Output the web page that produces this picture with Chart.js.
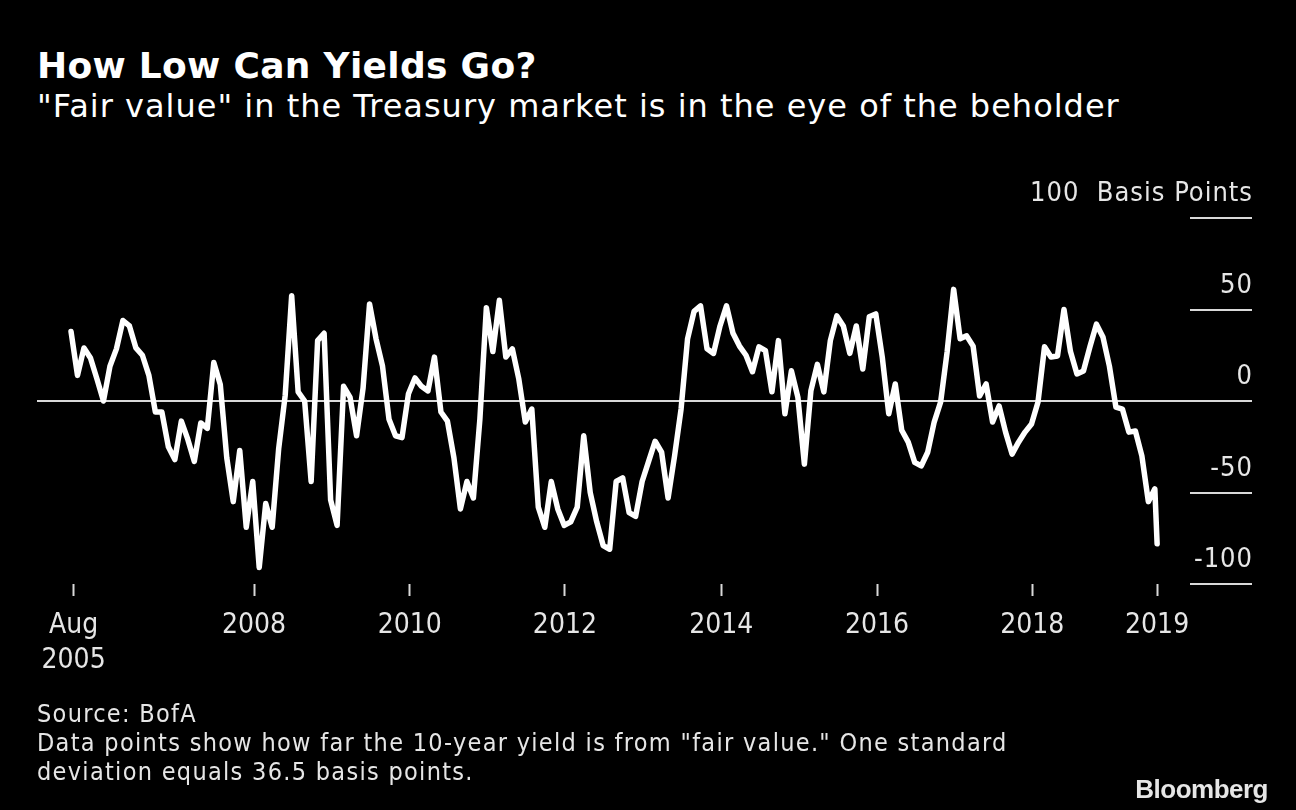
<!DOCTYPE html>
<html lang="en">
<head>
<meta charset="UTF-8">
<title>How Low Can Yields Go?</title>
<script src="https://cdn.jsdelivr.net/npm/chart.js"></script>
<style>
  html, body { margin: 0; padding: 0; background: #000; }
  body { width: 1296px; height: 810px; position: relative; overflow: hidden; font-family: "DejaVu Sans", sans-serif; }
  #chart { position: absolute; left: 0; top: 0; }
  .title { position: absolute; left: 37px; top: 45px; font-size: 36px; font-weight: bold; letter-spacing: 0.3px; color: #fff; line-height: 1.164; white-space: nowrap; }
  .subtitle { position: absolute; left: 37px; top: 88px; font-size: 32px; letter-spacing: 1px; color: #fff; line-height: 1.164; white-space: nowrap; }
  .notes { position: absolute; left: 37px; top: 699px; font-family: "DejaVu Sans Condensed", "DejaVu Sans", sans-serif; font-size: 25px; letter-spacing: 1.3px; line-height: 29px; color: #e6e6e6; white-space: nowrap; }
  .logo { position: absolute; right: 28px; top: 774px; font-family: "Liberation Sans", Arial, sans-serif; font-weight: bold; font-size: 26px; letter-spacing: -0.5px; color: #e6e6e6; }
</style>
</head>
<body>
  <div class="title">How Low Can Yields Go?</div>
  <div class="subtitle">"Fair value" in the Treasury market is in the eye of the beholder</div>
  <canvas id="chart" width="1296" height="810"></canvas>
  <div class="notes">Source: BofA<br>Data points show how far the 10-year yield is from "fair value." One standard<br>deviation equals 36.5 basis points.</div>
  <div class="logo">Bloomberg</div>
<script>
// monthly readings, Aug 2005 onwards (basis points from fair value)
const values = [
  38, 14, 29, 23.5, 12, 0, 19, 28.5, 44, 41, 29, 25, 14, -6, -6, -25, -32, -11, -21, -33,
  -12, -15, 21, 9, -31, -55, -27, -69, -44, -91, -56, -69, -26, 3, 57.5, 5, 0, -44, 33, 37,
  -54, -68, 8, 2, -19, 7, 53, 34, 19, -10, -19, -20, 4, 12.6, 8, 5.5, 24, -6, -11, -31,
  -59, -44, -53, -10, 51, 27, 55, 24, 28.5, 12, -11.5, -4.4, -58, -69, -44, -59, -68, -66, -58, -19,
  -50, -66, -79, -81, -44, -42, -61, -63, -44, -33, -22, -28, -53, -30, -4.4, 34, 49, 52, 28.5, 26,
  41, 52, 37, 30, 25, 16, 29.6, 27.5, 5, 33, -7, 16.5, 2, -34.5, 5.5, 20, 5, 33, 46.5, 41,
  26, 41, 17.5, 46, 47.6, 24, -7, 9.3, -16, -22.5, -33.5, -35.5, -28, -11.5, -0.5, 27, 61, 34, 35.6, 30,
  2.7, 9.3, -11.5, -2.7, -17, -29, -22.5, -17, -12.6, -0.5, 29.6, 24, 24.6, 50, 27, 14.8, 16.4, 29.6, 42, 35,
  19, -3.3, -4.4, -17, -16.4, -30, -55, -48, -78
];
// last reading is a partial month (early Aug 2019)
const lastMonth = 167.35;

// x ticks, in months since Aug 2005
const tickMonths = [0.4, 28.2, 52.2, 76.1, 100.2, 124.2, 148.1, 167.35];
const tickLabels = [['Aug', '2005'], '2008', '2010', '2012', '2014', '2016', '2018', '2019'];

const yTicks = [100, 50, 0, -50, -100];
const yLabels = ['100  Basis Points', '50', '0', '-50', '-100'];

const points = values.map((v, i) => ({ x: i === values.length - 1 ? lastMonth : i, y: v }));

const labelFont = '27px "DejaVu Sans Condensed", "DejaVu Sans", sans-serif';

// bloomberg-style right axis: short rules under each label + full zero line
const rightAxis = {
    id: 'rightAxis',
    beforeDatasetsDraw(chart) {
        const { ctx, chartArea, scales } = chart;
        const y = scales.y;
        ctx.save();
        ctx.strokeStyle = '#d9d9d9';
        ctx.lineWidth = 2;
        yTicks.forEach((t, i) => {
            const py = Math.round(y.getPixelForValue(t));
            ctx.beginPath();
            if (t === 0) {
                ctx.moveTo(chartArea.left, py);
            } else {
                ctx.moveTo(chartArea.right - 62, py);
            }
            ctx.lineTo(chartArea.right, py);
            ctx.stroke();
            ctx.fillStyle = '#e6e6e6';
            ctx.font = labelFont;
            ctx.letterSpacing = '1px';
            ctx.textAlign = 'right';
            ctx.textBaseline = 'alphabetic';
            ctx.fillText(yLabels[i], chartArea.right + 1, py - 17);
        });
        ctx.restore();
    }
};

const ctx = document.getElementById('chart').getContext('2d');
new Chart(ctx, {
    type: 'line',
    data: {
        datasets: [{
            data: points,
            borderColor: '#ffffff',
            borderWidth: 5.5,
            pointRadius: 0,
            tension: 0,
            borderJoinStyle: 'round',
            borderCapStyle: 'round',
            clip: false
        }]
    },
    options: {
        responsive: false,
        animation: false,
        layout: { padding: { left: 37, right: 44, top: 218, bottom: 126 } },
        plugins: { legend: { display: false }, tooltip: { enabled: false } },
        scales: {
            x: {
                type: 'linear',
                min: -5.24,
                max: 181.97,
                afterBuildTicks: scale => { scale.ticks = tickMonths.map(v => ({ value: v })); },
                afterFit: scale => { scale.height = 100; },
                ticks: {
                    autoSkip: false,
                    maxRotation: 0,
                    padding: 12,
                    color: '#e6e6e6',
                    font: { family: '"DejaVu Sans Condensed", "DejaVu Sans", sans-serif', size: 28, lineHeight: 1.26 },
                    callback: (v, i) => tickLabels[i]
                },
                grid: { drawOnChartArea: false, tickLength: 12, tickColor: '#d9d9d9', tickWidth: 2 },
                border: { display: false }
            },
            y: { display: false, min: -100, max: 100 }
        }
    },
    plugins: [rightAxis]
});
</script>
</body>
</html>
